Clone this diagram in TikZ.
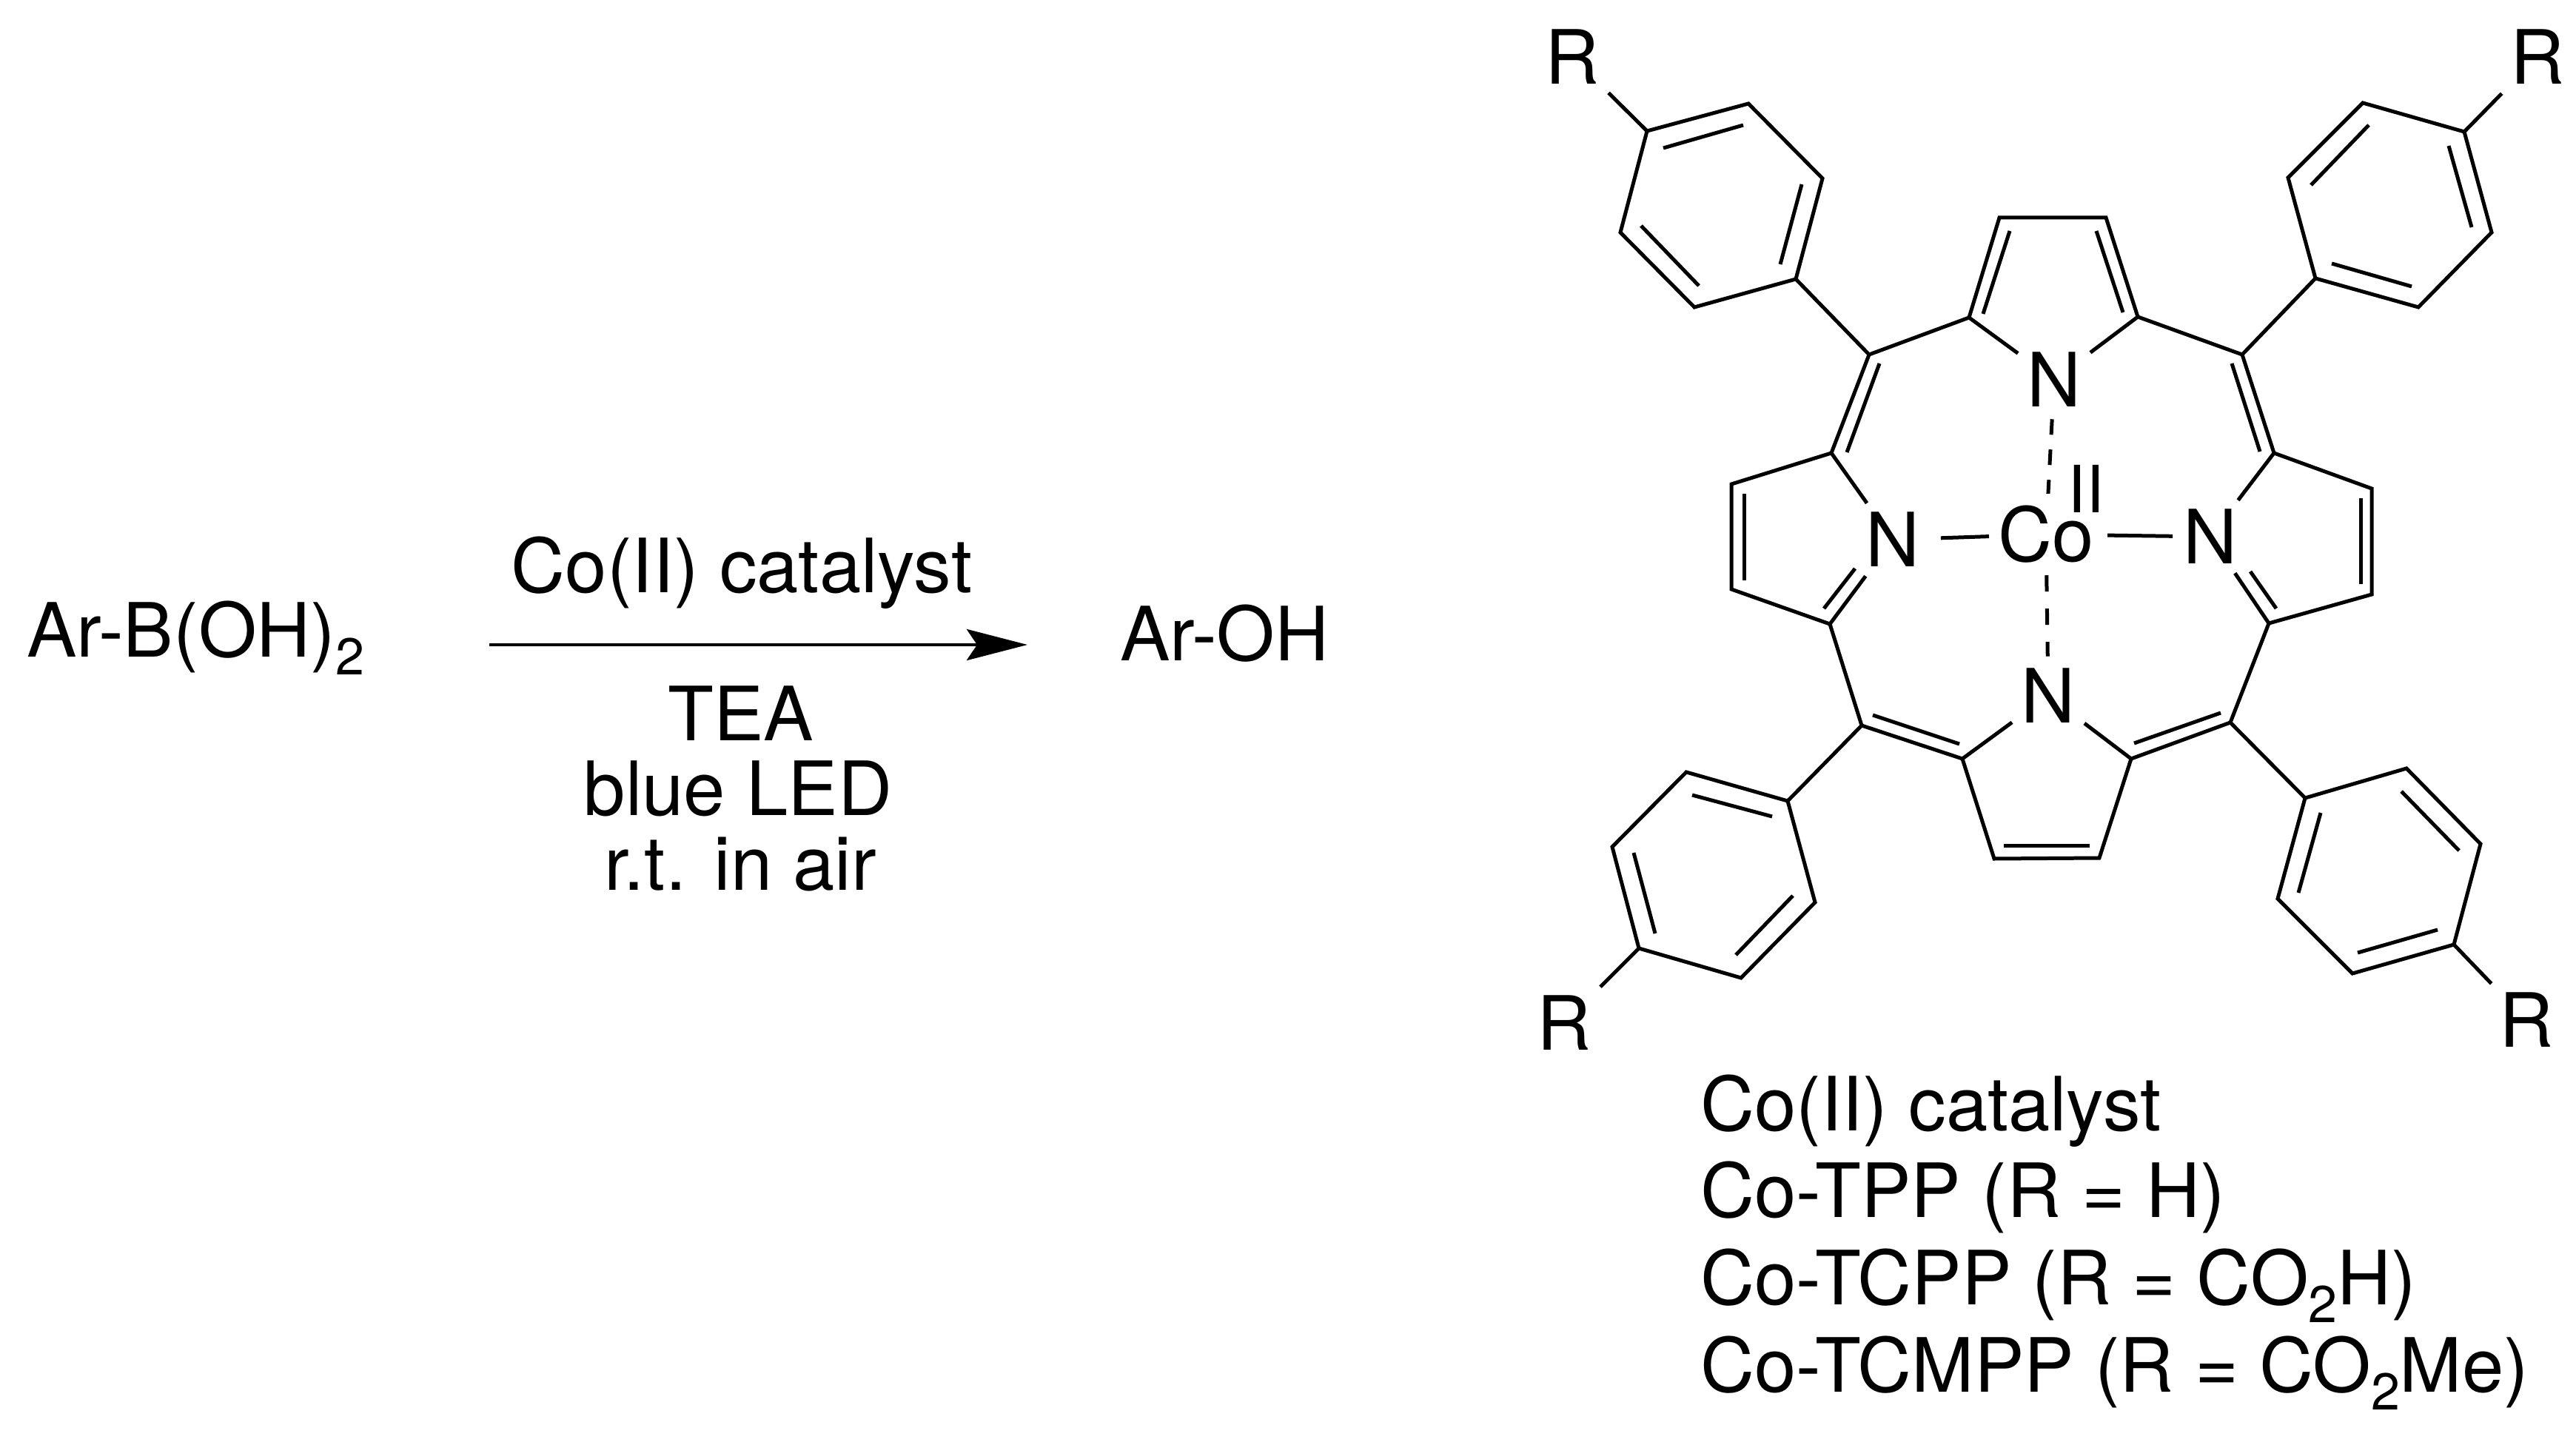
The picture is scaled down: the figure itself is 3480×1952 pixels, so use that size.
\documentclass[tikz,border=0pt]{standalone}
\usepackage{fontspec}
\setmainfont{TeX Gyre Heros}
\usetikzlibrary{arrows.meta}
\newcommand{\subnum}[1]{\raisebox{-12pt}{\fontsize{35}{35}\selectfont #1}}
\tikzset{
	bond/.style={line width=2.5pt},
	label/.style={font=\fontsize{50.6}{51}\selectfont, inner sep=0pt},
	atom/.style={label, inner sep=6pt},
	group/.style={label, inner sep=6pt}
}

\begin{document}
\begin{tikzpicture}[x=0.5pt, y=-0.5pt]
		\useasboundingbox (0, 0) rectangle (3480, 1952);
		%%%%% REACTION %%%%%
		
		\node[label, anchor=base west] (armb) at (36, 887) {Ar-B(OH)\subnum{2}};
		\node[label, anchor=base west] (arom) at (1513, 892) {Ar-OH};
		\node[label, anchor=base] (cat) at (1002, 800) {Co(II) catalyst};
		\node[label, anchor=base] (tea) at (1001, 1000) {TEA};
		\node[label, anchor=base] (led) at (997, 1101) {blue LED};
		\node[label, anchor=base] (rtair) at (1000, 1202) {r.t. in air};
		
		\coordinate (rxnstart) at (661, 871);
		\coordinate (rxnend) at (1388, 871);
		\draw[line width=2.4pt, -{Stealth[length=41pt, width=21pt, inset=7pt]}] (rxnstart) -- (rxnend);
		
		%%%%% LEGEND %%%%%
		
		\node[label, anchor=base west] (lega) at (2297, 1527) {Co(II) catalyst};
		\node[label, anchor=base west] (legb) at (2297, 1644) {Co-TPP (R = H)};
		\node[label, anchor=base west] (legc) at (2297, 1762) {Co-TCPP (R = CO\subnum{2}H)};
		\node[label, anchor=base west] (legd) at (2297, 1880) {Co-TCMPP (R = CO\subnum{2}Me)};
		
		%%%%% MACROCYCLE %%%%%
		
		\coordinate (mtl) at (2525, 479);
		\coordinate (ta1) at (2660, 429);
		\coordinate (tb1) at (2701, 294);
		\coordinate (tb2) at (2845, 294);
		\coordinate (ta2) at (2888, 428);
		\coordinate (mtr) at (3029, 479);
		\coordinate (ra1) at (3072, 612);
		\coordinate (rb1) at (3204, 660);
		\coordinate (rb2) at (3204, 803);
		\coordinate (ra2) at (3065, 842);
		\coordinate (mbr) at (3013, 976);
		\coordinate (ba2) at (2879, 1025);
		\coordinate (bb2) at (2836, 1159);
		\coordinate (bb1) at (2694, 1160);
		\coordinate (ba1) at (2651, 1025);
		\coordinate (mbl) at (2515, 980);
		\coordinate (la2) at (2472, 843);
		\coordinate (lb2) at (2339, 796);
		\coordinate (lb1) at (2339, 654);
		\coordinate (la1) at (2474, 612);
		
		\draw[bond] (mtl) -- (ta1) -- (tb1) -- (tb2) -- (ta2) -- (mtr) -- (ra1) -- (rb1) -- (rb2) -- (ra2)
			-- (mbr) -- (ba2) -- (bb2) -- (bb1) -- (ba1) -- (mbl) -- (la2) -- (lb2) -- (lb1) -- (la1) -- cycle;
		
		\node[atom] (ntop) at (2775, 513) {N};
		\node[atom] (nleft) at (2557, 729) {N};
		\node[atom] (nright) at (2986, 725) {N};
		\node[atom] (nbot) at (2767, 940) {N};
		\node[atom] (co) at (2764, 722) {Co};
		\node[label, font=\fontsize{44}{44}\selectfont] (coox) at (2818, 660) {II};
		
		\foreach \u/\v in {ta1/ntop, ta2/ntop, la1/nleft, la2/nleft, ra1/nright, ra2/nright, ba1/nbot, ba2/nbot}
			\draw[bond] (\u) -- (\v);
		
		\draw[bond, shorten <=8pt, shorten >=0pt] (nleft) -- (co);
		\draw[bond, shorten <=3pt, shorten >=1pt] (co) -- (nright);
		\draw[bond, dash pattern=on 10.5pt off 10pt, shorten <=2pt, shorten >=2pt] (ntop) -- (co);
		\draw[bond, dash pattern=on 11pt off 11.5pt, shorten <=2pt, shorten >=2pt] (co) -- (nbot);
		
		% inner strokes of the double bonds
		\draw[bond] (2715, 312) -- (2679, 424);
		\draw[bond] (2832, 312) -- (2868, 422);
		\draw[bond] (2539, 491) -- (2495, 611);
		\draw[bond] (3015, 491) -- (3053, 610);
		\draw[bond] (2356, 667) -- (2356, 784);
		\draw[bond] (3189, 673) -- (3189, 789);
		\draw[bond] (2464, 822) -- (2506, 768);
		\draw[bond] (3075, 822) -- (3040, 772);
		\draw[bond] (2530, 966) -- (2647, 1005);
		\draw[bond] (3000, 963) -- (2883, 1004);
		\draw[bond] (2707, 1142) -- (2823, 1142);
		
		%%%%% PHENYL RINGS %%%%%
		
		\coordinate (a1) at (2225, 177);
		\coordinate (a2) at (2362, 140);
		\coordinate (a3) at (2462, 241);
		\coordinate (a4) at (2426, 377);
		\coordinate (a5) at (2289, 415);
		\coordinate (a6) at (2189, 314);
		\draw[bond] (a1) -- (a2) -- (a3) -- (a4) -- (a5) -- (a6) -- cycle;
		\draw[bond] (a4) -- (mtl);
		\draw[bond] (2247, 200) -- (2355, 169);
		\draw[bond] (2434, 249) -- (2405, 357);
		\draw[bond] (2295, 386) -- (2217, 305);
		
		\coordinate (b1) at (3128, 376);
		\coordinate (b2) at (3267, 415);
		\coordinate (b3) at (3366, 314);
		\coordinate (b4) at (3329, 178);
		\coordinate (b5) at (3192, 139);
		\coordinate (b6) at (3091, 240);
		\draw[bond] (b1) -- (b2) -- (b3) -- (b4) -- (b5) -- (b6) -- cycle;
		\draw[bond] (b1) -- (mtr);
		\draw[bond] (3150, 356) -- (3258, 387);
		\draw[bond] (3339, 307) -- (3308, 197);
		\draw[bond] (3200, 169) -- (3122, 250);
		
		\coordinate (c1) at (2415, 1082);
		\coordinate (c2) at (2278, 1043);
		\coordinate (c3) at (2178, 1144);
		\coordinate (c4) at (2214, 1281);
		\coordinate (c5) at (2352, 1321);
		\coordinate (c6) at (2452, 1219);
		\draw[bond] (c1) -- (c2) -- (c3) -- (c4) -- (c5) -- (c6) -- cycle;
		\draw[bond] (c1) -- (mbl);
		\draw[bond] (2286, 1074) -- (2394, 1103);
		\draw[bond] (2207, 1152) -- (2236, 1261);
		\draw[bond] (2345, 1290) -- (2422, 1210);
		
		\coordinate (d1) at (3114, 1078);
		\coordinate (d2) at (3251, 1038);
		\coordinate (d3) at (3351, 1140);
		\coordinate (d4) at (3315, 1276);
		\coordinate (d5) at (3178, 1315);
		\coordinate (d6) at (3077, 1214);
		\draw[bond] (d1) -- (d2) -- (d3) -- (d4) -- (d5) -- (d6) -- cycle;
		\draw[bond] (d1) -- (mbr);
		\draw[bond] (3244, 1069) -- (3322, 1149);
		\draw[bond] (3105, 1206) -- (3135, 1098);
		\draw[bond] (3293, 1256) -- (3185, 1287);
		
		%%%%% R GROUPS %%%%%
		
		\node[group] (rtl) at (2124, 77) {R};
		\node[group] (rtr) at (3428, 77) {R};
		\node[group] (rbl) at (2113, 1382) {R};
		\node[group] (rbr) at (3413, 1378) {R};
		
		\foreach \u/\v in {a1/rtl, b4/rtr, c4/rbl, d4/rbr}
			\draw[bond] (\u) -- (\v);
		
	\end{tikzpicture}
\end{document}
